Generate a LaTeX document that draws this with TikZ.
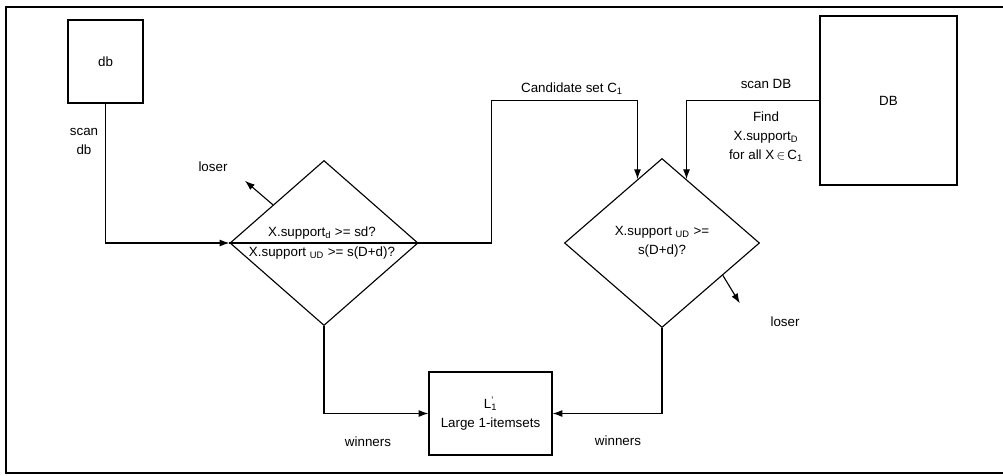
\documentclass[tikz,border=0pt]{standalone}
\usepackage{fontspec}
\setmainfont{Liberation Sans}
\usetikzlibrary{arrows.meta,shapes.geometric,calc}

\tikzset{
  txt/.style={inner sep=1pt, align=center, font=\fontsize{9.5}{13.5}\selectfont},
  box/.style={draw, thick, inner sep=0pt, txt},
  decision/.style={draw, thick, diamond, inner sep=0pt},
  arr/.style={thick, -{Latex[length=7pt,width=5pt]}}
}

\begin{document}
\begin{tikzpicture}[x=0.025cm, y=-0.025cm]
    \useasboundingbox (0,0) rectangle (1003,475);
    % frame
    \draw[thick] (1012,7) -- (6,7) -- (6,473) -- (1012,473);
    % (a) boxes
    \node[box, minimum width=1.875cm, minimum height=2.075cm] (db) at (105.5,61.5) {db};
    \node[box, minimum width=3.425cm, minimum height=4.225cm] (DB) at (888.5,100.5) {DB};
    \node[box, minimum width=3.075cm, minimum height=2.075cm] (L1) at (490.5,413.5)
      {L\rlap{\textsuperscript{'}}\textsubscript{1}\\Large 1-itemsets};
    % (b) decisions
    \node[decision, minimum width=4.7cm, minimum height=4.125cm] (d1) at (324,243) {};
    \node[decision, minimum width=4.875cm, minimum height=4.225cm] (d2) at (662,243) {};
    \draw[thick] (d1.west) -- (d1.east);
    \node[txt] (d1up) at (322,233) {X.support\textsubscript{d} >= sd?};
    \node[txt] (d1lo) at (322,253) {X.support \textsubscript{UD} >= s(D+d)?};
    \node[txt] (d2txt) at (662,242) {X.support \textsubscript{UD} >=\\s(D+d)?};
    % connectors
    \coordinate (d2ul) at ($(d2.west)!0.75!(d2.north)$);
    \coordinate (d2ur) at ($(d2.north)!0.25!(d2.east)$);
    \coordinate (ctop) at (d2ul |- DB.west);
    \coordinate (l1) at ($(d1.west)!0.46!(d1.north)$);
    \coordinate (l2) at ($(d2.east)!0.38!(d2.south)$);
    \draw[arr] (db.south) |- (d1.west);
    \draw[arr] (d1.east) -- ++(73,0) |- (ctop) -- (d2ul);
    \draw[arr] (DB.west) -| (d2ur);
    \draw[arr] (l1) -- ++(-28,-24);
    \draw[arr] (l2) -- ++(17,28);
    \draw[arr] (d1.south) |- (L1.west);
    \draw[arr] (d2.south) |- (L1.east);
    % labels
    \node[txt] (scandb) at (84,141) {scan\\db};
    \node[txt] (loser1) at (213,167) {loser};
    \node[txt] (cand) at (572,89) {Candidate set C\textsubscript{1}};
    \node[txt] (scanDB) at (766,84) {scan DB};
    \node[txt] (find) at (766,137) {Find\\X.support\textsubscript{D}\\for all X\,$\in$\,C\textsubscript{1}};
    \node[txt] (loser2) at (785,322) {loser};
    \node[txt] (win1) at (368,442) {winners};
    \node[txt] (win2) at (618,441) {winners};
  \end{tikzpicture}
\end{document}
